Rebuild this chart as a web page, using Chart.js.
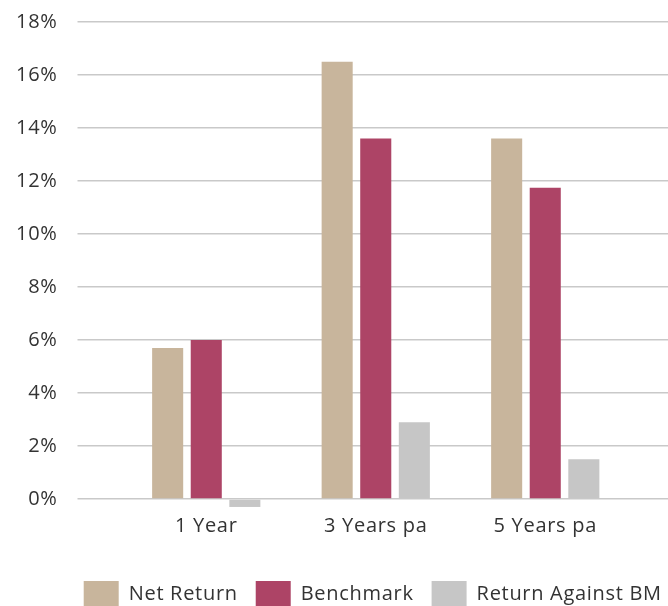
<!DOCTYPE html>
<html>
<head>
<meta charset="utf-8">
<script src="https://cdn.jsdelivr.net/npm/chart.js@4"></script>
<style>
  html, body { margin: 0; padding: 0; background: #fff; }
  #wrap { width: 668px; height: 606px; position: relative; }
</style>
</head>
<body>
<div id="wrap"><canvas id="c"></canvas></div>
<script>
const categories = ['1 Year', '3 Years pa', '5 Years pa'];
const netReturn = [5.7, 16.5, 13.6];
const benchmark = [6.0, 13.6, 11.75];
const returnAgainstBM = [-0.3, 2.9, 1.5];
const yTicks = [0, 2, 4, 6, 8, 10, 12, 14, 16, 18];

const FONT = '"Open Sans", Roboto, sans-serif';
const TEXT = '#333333';
const GRID = '#c9c9c9';
const LETTER_SPACING = '0.7px';

const textSpacing = {
  id: 'textSpacing',
  beforeLayout(chart) { chart.ctx.letterSpacing = LETTER_SPACING; },
  beforeDraw(chart) { chart.ctx.letterSpacing = LETTER_SPACING; },
  afterLayout(chart) {
    // centre the legend under the gridded area rather than the whole canvas
    const ca = chart.chartArea;
    const gridLeft = ca.left - chart.options.scales.y.grid.tickLength;
    const gridRight = ca.right + chart.options.scales.y2.grid.tickLength;
    const dx = (gridLeft + gridRight) / 2 - (chart.legend.left + chart.legend.right) / 2;
    chart.legend.left += dx;
    chart.legend.right += dx;
  }
};

new Chart(document.getElementById('c'), {
  type: 'bar',
  data: {
    labels: categories,
    datasets: [
      { label: 'Net Return', data: netReturn, backgroundColor: '#c8b59c', clip: false },
      { label: 'Benchmark', data: benchmark, backgroundColor: '#ad4466', clip: false },
      { label: 'Return Against BM', data: returnAgainstBM, backgroundColor: '#c6c6c6', clip: false }
    ]
  },
  plugins: [textSpacing],
  options: {
    responsive: true,
    maintainAspectRatio: false,
    animation: false,
    datasets: { bar: { categoryPercentage: 0.683, barPercentage: 0.805 } },
    layout: { padding: { top: 0, left: -4, right: 0, bottom: -11 } },
    plugins: {
      tooltip: { enabled: false },
      legend: {
        position: 'bottom',
        labels: {
          font: { family: FONT, size: 20 },
          color: TEXT,
          boxWidth: 35,
          boxHeight: 26,
          padding: 18
        }
      }
    },
    scales: {
      x: {
        grid: { display: false },
        border: { display: false },
        ticks: { font: { family: FONT, size: 20 }, color: TEXT, padding: 7 },
        afterFit: (s) => { s.height += 18; }
      },
      y: {
        min: 0, max: 18,
        afterBuildTicks: (s) => { s.ticks = yTicks.map(v => ({ value: v })); },
        afterFit: (s) => { s.paddingTop = 22; },
        grid: { color: GRID, lineWidth: 1.5, tickLength: 44 },
        border: { display: false },
        ticks: { font: { family: FONT, size: 20 }, color: TEXT, padding: 20,
                 callback: (v) => v + '%' }
      },
      y2: {
        position: 'right',
        min: 0, max: 18,
        afterBuildTicks: (s) => { s.ticks = yTicks.map(v => ({ value: v })); },
        grid: { color: GRID, lineWidth: 1.5, tickLength: 38, drawOnChartArea: false },
        border: { display: false },
        ticks: { display: false }
      }
    }
  }
});
</script>
</body>
</html>
